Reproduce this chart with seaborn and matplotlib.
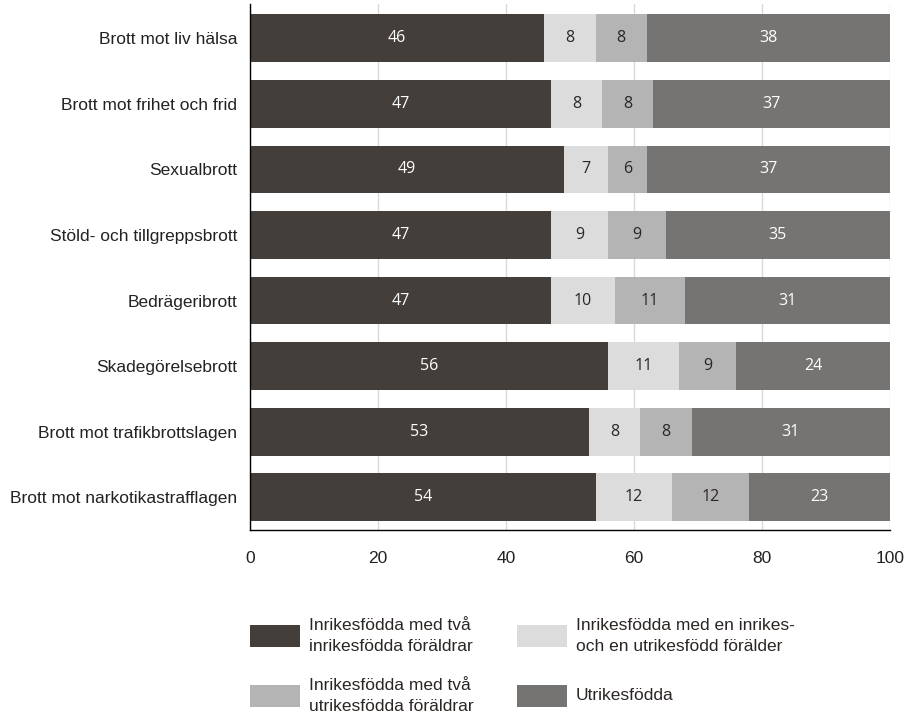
import numpy as np
import pandas as pd
import seaborn as sns
import matplotlib.pyplot as plt
from matplotlib.patches import Rectangle

sns.set_style('white')
plt.rcParams['font.family'] = ['Liberation Sans', 'DejaVu Sans']

### Data
categories = ['Brott mot liv hälsa', 'Brott mot frihet och frid', 'Sexualbrott',
              'Stöld- och tillgreppsbrott', 'Bedrägeribrott', 'Skadegörelsebrott',
              'Brott mot trafikbrottslagen', 'Brott mot narkotikastrafflagen']
inrikes_tva_inrikes = [46, 47, 49, 47, 47, 56, 53, 54]
inrikes_en_utrikes = [8, 8, 7, 9, 10, 11, 8, 12]
inrikes_tva_utrikes = [8, 8, 6, 9, 11, 9, 8, 12]
utrikes = [38, 37, 37, 35, 31, 24, 31, 23]
totals = [100] * 8

series_names = ['Inrikesfödda med två\ninrikesfödda föräldrar',
                'Inrikesfödda med en inrikes-\noch en utrikesfödd förälder',
                'Inrikesfödda med två\nutrikesfödda föräldrar',
                'Utrikesfödda']
colors = ['#433e3a', '#dcdcdc', '#b4b4b4', '#757473']
text_colors = ['white', '#2b2623', '#2b2623', 'white']

df = pd.DataFrame({'kategori': categories,
                   's1': inrikes_tva_inrikes, 's2': inrikes_en_utrikes,
                   's3': inrikes_tva_utrikes, 's4': utrikes, 'total': totals})
df['c1'] = df['s1']
df['c2'] = df['c1'] + df['s2']
df['c3'] = df['c2'] + df['s3']

### Canvas
fig = plt.figure(figsize=(9.09, 7.2), dpi=100)
ax = fig.add_axes([0.275, 0.264, 0.704, 0.730])

### Stacked bars, drawn from the right-most cumulative total inward
for col, color in zip(['total', 'c3', 'c2', 'c1'], colors[::-1]):
    sns.barplot(data=df, x=col, y='kategori', orient='h', color=color,
                width=0.73, saturation=1, edgecolor='none', ax=ax, zorder=2)

### Value labels
starts = [np.zeros(len(df)), df['c1'].values, df['c2'].values, df['c3'].values]
ends = [df['c1'].values, df['c2'].values, df['c3'].values, df['total'].values]
vals = [df['s1'], df['s2'], df['s3'], df['s4']]
for k in range(4):
    for i in range(len(df)):
        ax.text((starts[k][i] + ends[k][i]) / 2, i, str(vals[k][i]),
                ha='center', va='center', color=text_colors[k],
                fontsize=11.5, family=['Open Sans', 'DejaVu Sans'], zorder=3)

### Axes styling
ax.set_xlim(0, 100)
ax.set_ylim(7.5, -0.52)
ax.set_xticks([0, 20, 40, 60, 80, 100])
ax.xaxis.grid(True, color='#d9d9d9', linewidth=1, zorder=0)
ax.set_axisbelow(True)
for m in ['top', 'right']:
    ax.spines[m].set_visible(False)
for m in ['left', 'bottom']:
    ax.spines[m].set_color('black')
    ax.spines[m].set_linewidth(1)
ax.set_xlabel('')
ax.set_ylabel('')
ax.tick_params(axis='both', length=0, labelsize=12.5, colors='#222222')
ax.tick_params(axis='x', pad=15)
ax.tick_params(axis='y', pad=9)

### Legend (drawn manually to follow the two-column layout)
W, H = 909, 720
legend_pos = [(250, 625), (517, 625), (250, 685), (517, 685)]
for (px, py), name, color in zip(legend_pos, series_names, colors):
    fig.patches.append(Rectangle((px / W, 1 - (py + 22) / H), 50 / W, 22 / H,
                                 transform=fig.transFigure, facecolor=color,
                                 edgecolor='none'))
    fig.text((px + 59) / W, 1 - (py + 11) / H, name, ha='left', va='center',
             fontsize=12.5, color='#2b2623', linespacing=1.45)

fig.savefig('out.png', dpi=100)
